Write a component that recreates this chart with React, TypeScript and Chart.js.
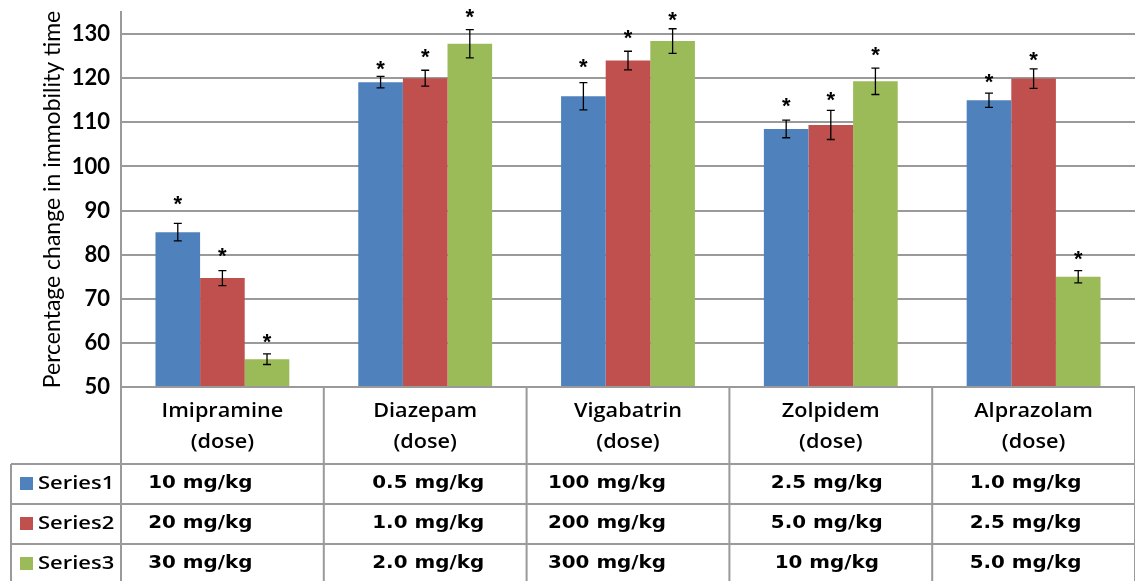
import React, { useEffect, useRef } from "react";
import { Chart, registerables } from "chart.js";

Chart.register(...registerables);

const drugs = ["Imipramine", "Diazepam", "Vigabatrin", "Zolpidem", "Alprazolam"];
const seriesNames = ["Series1", "Series2", "Series3"];
const series1 = [85.1, 119.1, 115.9, 108.5, 115.0];
const series2 = [74.7, 120.0, 124.0, 109.4, 119.9];
const series3 = [56.3, 127.8, 128.4, 119.3, 75.0];
const err1 = [2.0, 1.3, 3.1, 2.0, 1.6];
const err2 = [1.7, 1.8, 2.1, 3.3, 2.2];
const err3 = [1.2, 3.2, 2.8, 3.0, 1.4];
const star1 = [92.4, 123.1, 123.4, 114.7, 120.0];
const star2 = [80.7, 125.6, 130.0, 116.0, 125.0];
const star3 = [61.0, 134.7, 134.1, 126.2, 79.9];
const dose1 = ["10 mg/kg", "0.5 mg/kg", "100 mg/kg", "2.5 mg/kg", "1.0 mg/kg"];
const dose2 = ["20 mg/kg", "1.0 mg/kg", "200 mg/kg", "5.0 mg/kg", "2.5 mg/kg"];
const dose3 = ["30 mg/kg", "2.0 mg/kg", "300 mg/kg", "10 mg/kg", "5.0 mg/kg"];
const yTickValues = [50, 60, 70, 80, 90, 100, 110, 120, 130];
const yTitle = "Percentage change in immobility time";

const COLORS = ["#4F81BD", "#C0504D", "#9BBB59"];
const LINE = "#9a9a9a";
const CELL_SHIFT = [-22, 3, -21, -4, -8];

const errs = [err1, err2, err3];
const stars = [star1, star2, star3];
const doses = [dose1, dose2, dose3];

function drawText(ctx: CanvasRenderingContext2D, text: string, cx: number, cy: number, font: string, sx: number, align: "center" | "left") {
  ctx.save();
  ctx.font = font;
  ctx.textBaseline = "middle";
  ctx.textAlign = "left";
  const w = ctx.measureText(text).width * sx;
  const x0 = align === "center" ? cx - w / 2 : cx;
  ctx.translate(x0, cy);
  ctx.scale(sx, 1);
  ctx.fillStyle = "#000";
  ctx.fillText(text, 0, 0);
  ctx.restore();
}

const extrasPlugin = {
  id: "extras",
  afterDatasetsDraw(chart: any) {
    const ctx = chart.ctx as CanvasRenderingContext2D;
    const y = chart.scales.y;
    chart.data.datasets.forEach((ds: any, di: number) => {
      const meta = chart.getDatasetMeta(di);
      meta.data.forEach((bar: any, i: number) => {
        const v = ds.data[i];
        const e = errs[di][i];
        const x = bar.x;
        const yt = y.getPixelForValue(v + e);
        const yb = y.getPixelForValue(v - e);
        ctx.save();
        ctx.strokeStyle = "#000";
        ctx.lineWidth = 1.3;
        ctx.beginPath();
        ctx.moveTo(x, yt); ctx.lineTo(x, yb);
        ctx.moveTo(x - 4, yt); ctx.lineTo(x + 4, yt);
        ctx.moveTo(x - 4, yb); ctx.lineTo(x + 4, yb);
        ctx.stroke();
        const sy = y.getPixelForValue(stars[di][i]);
        ctx.font = "bold 22px 'Liberation Sans'";
        ctx.textAlign = "center";
        ctx.textBaseline = "alphabetic";
        ctx.fillStyle = "#000";
        ctx.fillText("*", x, sy + 0.5 * 22);
        ctx.restore();
      });
    });
  },
  afterDraw(chart: any) {
    const ctx = chart.ctx as CanvasRenderingContext2D;
    const xs = chart.scales.x;
    const area = chart.chartArea;
    const left = area.left;
    const right = area.right;
    const top = area.bottom;
    const headerH = 77;
    const rowH = 40;
    const r1 = top + headerH;
    const rowTops = [r1, r1 + rowH, r1 + 2 * rowH];
    const bottom = chart.height + 5;
    const colW = (right - left) / drugs.length;
    const tableLeft = left - 110;
    ctx.save();
    ctx.strokeStyle = LINE;
    ctx.lineWidth = 2;
    ctx.beginPath();
    for (let i = 0; i <= drugs.length; i++) {
      const x = left + i * colW;
      ctx.moveTo(x, top); ctx.lineTo(x, bottom);
    }
    ctx.moveTo(tableLeft, r1); ctx.lineTo(tableLeft, bottom);
    ctx.moveTo(left, top); ctx.lineTo(right, top);
    rowTops.forEach((ry) => { ctx.moveTo(tableLeft, ry); ctx.lineTo(right, ry); });
    ctx.stroke();
    ctx.restore();

    drugs.forEach((d, i) => {
      const cx = xs.getPixelForValue(i);
      drawText(ctx, d, cx, top + 25, "600 19px 'Open Sans'", 1.14, "center");
      drawText(ctx, "(dose)", cx, top + 56, "600 19px 'Open Sans'", 1.14, "center");
    });
    seriesNames.forEach((s, si) => {
      const cy = rowTops[si] + rowH / 2;
      ctx.fillStyle = COLORS[si];
      ctx.fillRect(tableLeft + 9, cy - 7, 13, 13);
      drawText(ctx, s, tableLeft + 27, cy, "600 18px 'Open Sans'", 1.22, "left");
      doses[si].forEach((t, i) => {
        const cx = xs.getPixelForValue(i) + CELL_SHIFT[i];
        drawText(ctx, t, cx, cy, "bold 17px 'DejaVu Sans'", 1.17, "center");
      });
    });
  },
};

export default function App() {
  const ref = useRef<HTMLCanvasElement>(null);
  useEffect(() => {
    const canvas = ref.current!;
    const chart = new Chart(canvas, {
      type: "bar",
      data: {
        labels: drugs,
        datasets: [series1, series2, series3].map((d, i) => ({
          label: seriesNames[i],
          data: d,
          backgroundColor: COLORS[i],
          borderWidth: 0,
          categoryPercentage: 0.66,
          barPercentage: 1,
        })),
      },
      options: {
        responsive: false,
        animation: false,
        devicePixelRatio: 1,
        layout: { padding: { left: 0, top: 12, right: -4, bottom: 0 } },
        plugins: { legend: { display: false }, tooltip: { enabled: false } },
        scales: {
          x: {
            grid: { display: false },
            border: { display: false },
            ticks: { display: false },
            afterFit: (s: any) => { s.height = 194; s.paddingLeft = 0; s.paddingRight = 0; },
          },
          y: {
            min: 50,
            max: 135,
            afterBuildTicks: (s: any) => { s.ticks = yTickValues.map((v) => ({ value: v })); },
            ticks: { color: "#000", padding: 11, font: { family: "Lato", weight: "bold", size: 22 } },
            grid: { color: LINE, lineWidth: 2, drawTicks: false },
            border: { color: LINE, width: 2 },
            title: { display: true, text: yTitle, color: "#000", font: { family: "Lato", size: 23 }, padding: { top: 39, bottom: 0 } },
            afterFit: (s: any) => { s.width = 121; s.paddingTop = 0; s.paddingBottom = 0; },
          },
        },
      },
      plugins: [extrasPlugin],
    });
    return () => chart.destroy();
  }, []);
  return (
    <div style={{ position: "fixed", left: 0, top: 0, width: 1135, height: 581, background: "#fff" }}>
      <canvas ref={ref} width={1135} height={581} style={{ display: "block" }} />
    </div>
  );
}
